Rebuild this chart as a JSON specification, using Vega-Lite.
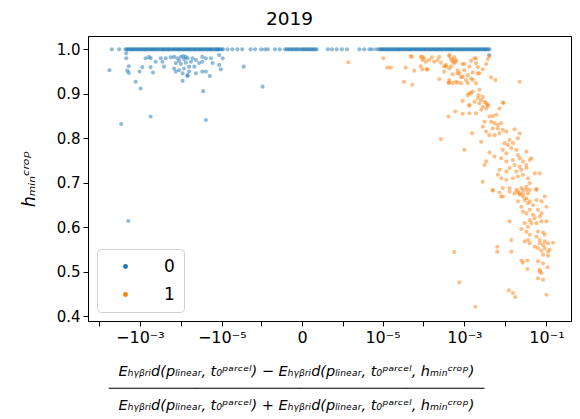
{
"$schema": "https://vega.github.io/schema/vega-lite/v6.json",
"autosize": {"type": "none"},
"padding": {"left": 88, "top": 36, "right": 9, "bottom": 98},
"width": 483,
"height": 285,
"config": {"font": "DejaVu Sans", "view": {"stroke": "black", "strokeWidth": 1}},
"title": {"text": "2019", "fontSize": 18.5, "fontWeight": "normal", "color": "black", "offset": 8, "dx": -40},
"datasets": {
"pts": [
{"c":"0","x":-4.8e-3,"y":1},{"c":"0","x":-3.2e-3,"y":1},{"c":"0","x":-2.24e-3,"y":1},{"c":"0","x":-1.95e-3,"y":1},{"c":"0","x":-1.70e-3,"y":1},{"c":"0","x":-1.48e-3,"y":1},{"c":"0","x":-1.29e-3,"y":1},{"c":"0","x":-1.12e-3,"y":1},{"c":"0","x":-9.8e-4,"y":1},{"c":"0","x":-8.5e-4,"y":1},{"c":"0","x":-7.4e-4,"y":1},{"c":"0","x":-6.5e-4,"y":1},{"c":"0","x":-5.6e-4,"y":1},{"c":"0","x":-4.9e-4,"y":1},{"c":"0","x":-4.3e-4,"y":1},{"c":"0","x":-3.7e-4,"y":1},{"c":"0","x":-3.2e-4,"y":1},{"c":"0","x":-2.8e-4,"y":1},{"c":"0","x":-2.5e-4,"y":1},{"c":"0","x":-2.1e-4,"y":1},{"c":"0","x":-1.9e-4,"y":1},{"c":"0","x":-1.6e-4,"y":1},{"c":"0","x":-1.4e-4,"y":1},{"c":"0","x":-1.2e-4,"y":1},{"c":"0","x":-1.07e-4,"y":1},{"c":"0","x":-9.3e-5,"y":1},{"c":"0","x":-8.1e-5,"y":1},{"c":"0","x":-7.1e-5,"y":1},{"c":"0","x":-6.2e-5,"y":1},{"c":"0","x":-5.4e-5,"y":1},{"c":"0","x":-4.7e-5,"y":1},{"c":"0","x":-4.1e-5,"y":1},{"c":"0","x":-3.5e-5,"y":1},{"c":"0","x":-3.1e-5,"y":1},{"c":"0","x":-2.7e-5,"y":1},{"c":"0","x":-2.3e-5,"y":1},{"c":"0","x":-2.0e-5,"y":1},{"c":"0","x":-1.8e-5,"y":1},{"c":"0","x":-1.5e-5,"y":1},{"c":"0","x":-1.3e-5,"y":1},{"c":"0","x":-1.2e-5,"y":1},{"c":"0","x":-1.0e-5,"y":1},{"c":"0","x":-9.3e-6,"y":1},
{"c":"0","x":-2.09e-3,"y":1},{"c":"0","x":-1.82e-3,"y":1},{"c":"0","x":-1.58e-3,"y":1},{"c":"0","x":-1.38e-3,"y":1},{"c":"0","x":-1.20e-3,"y":1},{"c":"0","x":-1.05e-3,"y":1},{"c":"0","x":-9.1e-4,"y":1},{"c":"0","x":-7.9e-4,"y":1},{"c":"0","x":-6.9e-4,"y":1},{"c":"0","x":-6.0e-4,"y":1},{"c":"0","x":-5.2e-4,"y":1},{"c":"0","x":-4.6e-4,"y":1},{"c":"0","x":-4.0e-4,"y":1},{"c":"0","x":-3.5e-4,"y":1},{"c":"0","x":-3.0e-4,"y":1},{"c":"0","x":-2.6e-4,"y":1},{"c":"0","x":-2.3e-4,"y":1},{"c":"0","x":-2.0e-4,"y":1},{"c":"0","x":-1.74e-4,"y":1},{"c":"0","x":-1.51e-4,"y":1},{"c":"0","x":-1.32e-4,"y":1},{"c":"0","x":-1.15e-4,"y":1},{"c":"0","x":-1.0e-4,"y":1},{"c":"0","x":-8.7e-5,"y":1},{"c":"0","x":-7.6e-5,"y":1},{"c":"0","x":-6.6e-5,"y":1},{"c":"0","x":-5.8e-5,"y":1},{"c":"0","x":-5.0e-5,"y":1},{"c":"0","x":-4.4e-5,"y":1},{"c":"0","x":-3.8e-5,"y":1},{"c":"0","x":-3.3e-5,"y":1},{"c":"0","x":-2.9e-5,"y":1},{"c":"0","x":-2.5e-5,"y":1},{"c":"0","x":-2.2e-5,"y":1},{"c":"0","x":-1.9e-5,"y":1},{"c":"0","x":-1.66e-5,"y":1},{"c":"0","x":-1.45e-5,"y":1},{"c":"0","x":-1.26e-5,"y":1},{"c":"0","x":-1.10e-5,"y":1},
{"c":"0","x":-7.2e-6,"y":1},{"c":"0","x":-5.5e-6,"y":1},{"c":"0","x":-4.1e-6,"y":1},{"c":"0","x":-3.1e-6,"y":1},{"c":"0","x":-1.9e-6,"y":1},{"c":"0","x":-1.45e-6,"y":1},{"c":"0","x":-1.0e-6,"y":1},{"c":"0","x":-7.9e-7,"y":1},{"c":"0","x":-6.5e-7,"y":1},{"c":"0","x":-4.0e-7,"y":1},{"c":"0","x":-2.8e-7,"y":1},{"c":"0","x":-1.8e-7,"y":1},{"c":"0","x":-1.5e-7,"y":1},{"c":"0","x":-1.3e-7,"y":1},{"c":"0","x":-1.1e-7,"y":1},{"c":"0","x":-9e-8,"y":1},{"c":"0","x":-7.7e-8,"y":1},{"c":"0","x":-6e-8,"y":1},{"c":"0","x":-4.7e-8,"y":1},{"c":"0","x":-3.5e-8,"y":1},{"c":"0","x":-2.3e-8,"y":1},{"c":"0","x":-1e-8,"y":1},{"c":"0","x":0,"y":1},{"c":"0","x":1e-8,"y":1},{"c":"0","x":1.8e-8,"y":1},{"c":"0","x":3e-8,"y":1},{"c":"0","x":4.2e-8,"y":1},{"c":"0","x":5.5e-8,"y":1},{"c":"0","x":7.0e-8,"y":1},{"c":"0","x":8.5e-8,"y":1},{"c":"0","x":1.0e-7,"y":1},{"c":"0","x":1.2e-7,"y":1},{"c":"0","x":1.4e-7,"y":1},{"c":"0","x":3.6e-7,"y":1},{"c":"0","x":4.8e-7,"y":1},{"c":"0","x":6.6e-7,"y":1},{"c":"0","x":9.2e-7,"y":1},{"c":"0","x":1.27e-6,"y":1},{"c":"0","x":2.65e-6,"y":1},{"c":"0","x":3.5e-6,"y":1},{"c":"0","x":4.7e-6,"y":1},{"c":"0","x":5.5e-6,"y":1},{"c":"0","x":6.9e-6,"y":1},
{"c":"0","x":8.1e-6,"y":1},{"c":"0","x":9.3e-6,"y":1},{"c":"0","x":1.07e-5,"y":1},{"c":"0","x":1.23e-5,"y":1},{"c":"0","x":1.41e-5,"y":1},{"c":"0","x":1.62e-5,"y":1},{"c":"0","x":1.86e-5,"y":1},{"c":"0","x":2.14e-5,"y":1},{"c":"0","x":2.45e-5,"y":1},{"c":"0","x":2.8e-5,"y":1},{"c":"0","x":3.2e-5,"y":1},{"c":"0","x":3.7e-5,"y":1},{"c":"0","x":4.3e-5,"y":1},{"c":"0","x":4.9e-5,"y":1},{"c":"0","x":5.6e-5,"y":1},{"c":"0","x":6.5e-5,"y":1},{"c":"0","x":7.4e-5,"y":1},{"c":"0","x":8.5e-5,"y":1},{"c":"0","x":9.8e-5,"y":1},{"c":"0","x":1.12e-4,"y":1},{"c":"0","x":1.29e-4,"y":1},{"c":"0","x":1.48e-4,"y":1},{"c":"0","x":1.70e-4,"y":1},{"c":"0","x":1.95e-4,"y":1},{"c":"0","x":2.24e-4,"y":1},{"c":"0","x":2.57e-4,"y":1},{"c":"0","x":2.95e-4,"y":1},{"c":"0","x":3.4e-4,"y":1},{"c":"0","x":3.9e-4,"y":1},{"c":"0","x":4.5e-4,"y":1},{"c":"0","x":5.1e-4,"y":1},{"c":"0","x":5.9e-4,"y":1},{"c":"0","x":6.8e-4,"y":1},{"c":"0","x":7.8e-4,"y":1},{"c":"0","x":8.9e-4,"y":1},{"c":"0","x":1.02e-3,"y":1},{"c":"0","x":1.17e-3,"y":1},{"c":"0","x":1.35e-3,"y":1},{"c":"0","x":1.55e-3,"y":1},{"c":"0","x":1.78e-3,"y":1},{"c":"0","x":2.04e-3,"y":1},{"c":"0","x":2.34e-3,"y":1},{"c":"0","x":2.69e-3,"y":1},{"c":"0","x":3.1e-3,"y":1},{"c":"0","x":3.5e-3,"y":1},{"c":"0","x":4.1e-3,"y":1},
{"c":"0","x":8.7e-6,"y":1},{"c":"0","x":1.0e-5,"y":1},{"c":"0","x":1.15e-5,"y":1},{"c":"0","x":1.32e-5,"y":1},{"c":"0","x":1.51e-5,"y":1},{"c":"0","x":1.74e-5,"y":1},{"c":"0","x":2.0e-5,"y":1},{"c":"0","x":2.3e-5,"y":1},{"c":"0","x":2.6e-5,"y":1},{"c":"0","x":3.0e-5,"y":1},{"c":"0","x":3.5e-5,"y":1},{"c":"0","x":4.0e-5,"y":1},{"c":"0","x":4.6e-5,"y":1},{"c":"0","x":5.2e-5,"y":1},{"c":"0","x":6.0e-5,"y":1},{"c":"0","x":6.9e-5,"y":1},{"c":"0","x":7.9e-5,"y":1},{"c":"0","x":9.1e-5,"y":1},{"c":"0","x":1.05e-4,"y":1},{"c":"0","x":1.20e-4,"y":1},{"c":"0","x":1.38e-4,"y":1},{"c":"0","x":1.58e-4,"y":1},{"c":"0","x":1.82e-4,"y":1},{"c":"0","x":2.09e-4,"y":1},{"c":"0","x":2.4e-4,"y":1},{"c":"0","x":2.75e-4,"y":1},{"c":"0","x":3.16e-4,"y":1},{"c":"0","x":3.6e-4,"y":1},{"c":"0","x":4.2e-4,"y":1},{"c":"0","x":4.8e-4,"y":1},{"c":"0","x":5.5e-4,"y":1},{"c":"0","x":6.3e-4,"y":1},{"c":"0","x":7.2e-4,"y":1},{"c":"0","x":8.3e-4,"y":1},{"c":"0","x":9.5e-4,"y":1},{"c":"0","x":1.10e-3,"y":1},{"c":"0","x":1.26e-3,"y":1},{"c":"0","x":1.45e-3,"y":1},{"c":"0","x":1.66e-3,"y":1},{"c":"0","x":1.91e-3,"y":1},{"c":"0","x":2.19e-3,"y":1},{"c":"0","x":2.51e-3,"y":1},{"c":"0","x":2.88e-3,"y":1},{"c":"0","x":3.3e-3,"y":1},{"c":"0","x":3.8e-3,"y":1},
{"c":"0","x":-2.15e-3,"y":0.991},{"c":"0","x":-2.15e-3,"y":0.980},{"c":"0","x":-7.24e-4,"y":0.980},{"c":"0","x":-6.0e-4,"y":0.983},{"c":"0","x":-5.47e-4,"y":0.980},{"c":"0","x":-3.11e-4,"y":0.980},{"c":"0","x":-2.34e-4,"y":0.980},{"c":"0","x":-1.77e-4,"y":0.982},{"c":"0","x":-4.12e-4,"y":0.972},{"c":"0","x":-2.82e-4,"y":0.972},{"c":"0","x":-1.86e-3,"y":0.962},{"c":"0","x":-8.73e-4,"y":0.960},{"c":"0","x":-5.47e-4,"y":0.960},{"c":"0","x":-2.58e-4,"y":0.961},{"c":"0","x":-5.53e-3,"y":0.953},{"c":"0","x":-2.04e-3,"y":0.952},{"c":"0","x":-1.86e-3,"y":0.947},{"c":"0","x":-1.02e-3,"y":0.950},{"c":"0","x":-4.80e-4,"y":0.948},
{"c":"0","x":-1.47e-4,"y":0.983},{"c":"0","x":-1.21e-4,"y":0.980},{"c":"0","x":-1.0e-4,"y":0.983},{"c":"0","x":-8.8e-5,"y":0.985},{"c":"0","x":-7.6e-5,"y":0.983},{"c":"0","x":-6.9e-5,"y":0.980},{"c":"0","x":-8.4e-5,"y":0.978},{"c":"0","x":-1.11e-4,"y":0.974},{"c":"0","x":-1.33e-4,"y":0.969},{"c":"0","x":-1.0e-4,"y":0.967},{"c":"0","x":-7.6e-5,"y":0.970},{"c":"0","x":-5.7e-5,"y":0.972},{"c":"0","x":-5.2e-5,"y":0.980},{"c":"0","x":-4.3e-5,"y":0.976},{"c":"0","x":-6.3e-5,"y":0.961},{"c":"0","x":-8.4e-5,"y":0.957},{"c":"0","x":-1.11e-4,"y":0.953},{"c":"0","x":-1.33e-4,"y":0.950},{"c":"0","x":-1.47e-4,"y":0.957},{"c":"0","x":-9.1e-5,"y":0.946},{"c":"0","x":-6.3e-5,"y":0.950},{"c":"0","x":-4.7e-5,"y":0.961},{"c":"0","x":-3.6e-5,"y":0.969},{"c":"0","x":-3.0e-5,"y":0.972},{"c":"0","x":-3.0e-5,"y":0.983},{"c":"0","x":-2.45e-5,"y":0.980},{"c":"0","x":-1.85e-5,"y":0.980},{"c":"0","x":-1.68e-5,"y":0.969},{"c":"0","x":-1.16e-5,"y":0.965},{"c":"0","x":-9.5e-6,"y":0.980},{"c":"0","x":-1.16e-5,"y":0.987},{"c":"0","x":-2.45e-5,"y":0.950},{"c":"0","x":-3.0e-5,"y":0.950},{"c":"0","x":-4.3e-5,"y":0.946},{"c":"0","x":-6.9e-5,"y":0.942},{"c":"0","x":-9.1e-5,"y":0.929},{"c":"0","x":-6.9e-5,"y":0.940},{"c":"0","x":-1.96e-5,"y":0.940},{"c":"0","x":-1.05e-5,"y":0.955},
{"c":"0","x":-1.27e-3,"y":0.927},{"c":"0","x":-9.6e-4,"y":0.912},{"c":"0","x":-2.86e-5,"y":0.906},{"c":"0","x":-2.83e-6,"y":0.961},{"c":"0","x":-9.1e-7,"y":0.916},{"c":"0","x":-5.47e-4,"y":0.849},{"c":"0","x":-2.45e-5,"y":0.841},{"c":"0","x":-2.86e-3,"y":0.832},{"c":"0","x":-1.92e-3,"y":0.614},{"c":"0","x":4.0e-3,"y":0.987},
{"c":"1","x":1.37e-6,"y":0.971},{"c":"1","x":1.05e-5,"y":0.980},{"c":"1","x":1.31e-5,"y":0.959},{"c":"1","x":1.59e-5,"y":0.959},{"c":"1","x":3.37e-5,"y":0.927},{"c":"1","x":5.37e-5,"y":0.921},{"c":"1","x":3.70e-5,"y":0.959},{"c":"1","x":5.2e-5,"y":0.983},{"c":"1","x":5.92e-5,"y":0.952},{"c":"1","x":8.63e-5,"y":0.983},{"c":"1","x":9.45e-5,"y":0.976},{"c":"1","x":1.15e-4,"y":0.972},{"c":"1","x":1.04e-4,"y":0.980},{"c":"1","x":8.63e-5,"y":0.962},{"c":"1","x":1.21e-4,"y":0.955},{"c":"1","x":1.61e-4,"y":0.982},{"c":"1","x":2.20e-4,"y":0.976},{"c":"1","x":2.67e-4,"y":0.970},{"c":"1","x":2.43e-4,"y":0.933},{"c":"1","x":3.21e-4,"y":0.962},{"c":"1","x":3.54e-4,"y":0.961},{"c":"1","x":4.27e-4,"y":0.985},{"c":"1","x":4.70e-4,"y":0.978},{"c":"1","x":5.14e-4,"y":0.972},{"c":"1","x":5.65e-4,"y":0.969},{"c":"1","x":6.22e-4,"y":0.976},{"c":"1","x":5.65e-4,"y":0.982},{"c":"1","x":4.27e-4,"y":0.957},{"c":"1","x":5.14e-4,"y":0.944},{"c":"1","x":6.81e-4,"y":0.946},{"c":"1","x":8.26e-4,"y":0.938},{"c":"1","x":6.22e-4,"y":0.927},{"c":"1","x":4.27e-4,"y":0.925},{"c":"1","x":9.04e-4,"y":0.967},{"c":"1","x":9.95e-4,"y":0.953},{"c":"1","x":1.09e-3,"y":0.931},{"c":"1","x":1.20e-3,"y":0.924},{"c":"1","x":8.26e-4,"y":0.924},{"c":"1","x":1.45e-3,"y":0.974},{"c":"1","x":1.75e-3,"y":0.980},{"c":"1","x":1.92e-3,"y":0.969},{"c":"1","x":2.11e-3,"y":0.960},{"c":"1","x":1.59e-3,"y":0.948},{"c":"1","x":2.32e-3,"y":0.946},{"c":"1","x":1.45e-3,"y":0.935},{"c":"1","x":3.38e-3,"y":0.967},{"c":"1","x":4.07e-3,"y":0.985},{"c":"1","x":4.49e-3,"y":0.937},{"c":"1","x":5.72e-3,"y":0.931},
{"c":"1","x":1.32e-3,"y":0.901},{"c":"1","x":1.59e-3,"y":0.905},{"c":"1","x":1.20e-3,"y":0.897},{"c":"1","x":1.45e-3,"y":0.901},{"c":"1","x":2.32e-3,"y":0.909},{"c":"1","x":9.04e-4,"y":0.884},{"c":"1","x":1.32e-3,"y":0.875},{"c":"1","x":1.75e-3,"y":0.882},{"c":"1","x":2.55e-3,"y":0.886},{"c":"1","x":3.38e-3,"y":0.879},{"c":"1","x":3.71e-3,"y":0.873},{"c":"1","x":2.79e-3,"y":0.871},
{"c":"1","x":4.91e-5,"y":0.985},{"c":"1","x":9.45e-5,"y":0.983},{"c":"1","x":1.38e-4,"y":0.976},{"c":"1","x":1.83e-4,"y":0.972},{"c":"1","x":2.43e-4,"y":0.983},{"c":"1","x":9.45e-5,"y":0.955},{"c":"1","x":1.25e-4,"y":0.955},{"c":"1","x":4.10e-4,"y":0.925},{"c":"1","x":4.27e-4,"y":0.987},{"c":"1","x":5.14e-4,"y":0.976},{"c":"1","x":6.22e-4,"y":0.972},{"c":"1","x":3.54e-4,"y":0.965},{"c":"1","x":4.70e-4,"y":0.962},{"c":"1","x":3.21e-4,"y":0.950},{"c":"1","x":6.81e-4,"y":0.953},{"c":"1","x":9.95e-4,"y":0.967},{"c":"1","x":1.32e-3,"y":0.961},{"c":"1","x":1.92e-3,"y":0.980},{"c":"1","x":2.79e-3,"y":0.955},{"c":"1","x":2.11e-3,"y":0.946},{"c":"1","x":3.71e-3,"y":0.978},{"c":"1","x":7.50e-4,"y":0.946},{"c":"1","x":9.04e-4,"y":0.938},{"c":"1","x":1.20e-3,"y":0.942},{"c":"1","x":1.59e-3,"y":0.931},{"c":"1","x":1.92e-3,"y":0.924},{"c":"1","x":6.81e-4,"y":0.925},{"c":"1","x":5.14e-4,"y":0.924},{"c":"1","x":4.27e-4,"y":0.931},{"c":"1","x":2.22e-2,"y":0.927},{"c":"1","x":8.63e-3,"y":0.880},
{"c":"1","x":2.23e-3,"y":0.897},{"c":"1","x":2.11e-3,"y":0.890},{"c":"1","x":2.79e-3,"y":0.893},{"c":"1","x":1.32e-3,"y":0.873},{"c":"1","x":2.32e-3,"y":0.879},{"c":"1","x":3.08e-3,"y":0.882},{"c":"1","x":3.71e-3,"y":0.875},{"c":"1","x":3.38e-3,"y":0.867},{"c":"1","x":2.55e-3,"y":0.864},{"c":"1","x":1.92e-3,"y":0.856},{"c":"1","x":1.32e-3,"y":0.856},{"c":"1","x":7.17e-3,"y":0.867},{"c":"1","x":8.98e-3,"y":0.880},{"c":"1","x":5.98e-4,"y":0.860},{"c":"1","x":4.10e-4,"y":0.849},{"c":"1","x":9.04e-4,"y":0.855},
{"c":"1","x":4.07e-3,"y":0.849},{"c":"1","x":4.91e-3,"y":0.850},{"c":"1","x":5.95e-3,"y":0.853},{"c":"1","x":4.49e-3,"y":0.837},{"c":"1","x":5.41e-3,"y":0.834},{"c":"1","x":6.51e-3,"y":0.830},{"c":"1","x":7.89e-3,"y":0.834},{"c":"1","x":3.08e-3,"y":0.837},{"c":"1","x":2.79e-3,"y":0.826},{"c":"1","x":3.38e-3,"y":0.815},{"c":"1","x":4.07e-3,"y":0.807},{"c":"1","x":5.41e-3,"y":0.807},{"c":"1","x":7.17e-3,"y":0.811},{"c":"1","x":8.63e-3,"y":0.819},{"c":"1","x":1.05e-2,"y":0.815},{"c":"1","x":4.91e-3,"y":0.822},{"c":"1","x":6.51e-3,"y":0.822},{"c":"1","x":1.54e-3,"y":0.811},{"c":"1","x":2.67e-4,"y":0.798},{"c":"1","x":2.55e-3,"y":0.792},
{"c":"1","x":1.67e-2,"y":0.820},{"c":"1","x":2.22e-2,"y":0.811},{"c":"1","x":2.01e-2,"y":0.800},{"c":"1","x":1.26e-2,"y":0.796},{"c":"1","x":1.15e-2,"y":0.785},{"c":"1","x":9.51e-3,"y":0.789},{"c":"1","x":1.52e-2,"y":0.789},{"c":"1","x":1.39e-2,"y":0.778},{"c":"1","x":8.63e-3,"y":0.774},{"c":"1","x":1.05e-2,"y":0.766},{"c":"1","x":1.84e-2,"y":0.774},{"c":"1","x":2.01e-2,"y":0.762},{"c":"1","x":3.24e-2,"y":0.770},{"c":"1","x":9.95e-4,"y":0.774},
{"c":"1","x":4.07e-3,"y":0.768},{"c":"1","x":5.41e-3,"y":0.759},{"c":"1","x":7.89e-3,"y":0.755},{"c":"1","x":1.05e-2,"y":0.748},{"c":"1","x":1.52e-2,"y":0.751},{"c":"1","x":2.22e-2,"y":0.755},{"c":"1","x":2.67e-2,"y":0.748},{"c":"1","x":3.90e-2,"y":0.751},{"c":"1","x":3.24e-2,"y":0.740},{"c":"1","x":2.22e-2,"y":0.736},{"c":"1","x":1.67e-2,"y":0.740},{"c":"1","x":1.26e-2,"y":0.733},{"c":"1","x":1.05e-2,"y":0.725},{"c":"1","x":1.84e-2,"y":0.725},{"c":"1","x":2.44e-2,"y":0.729},{"c":"1","x":3.24e-2,"y":0.733},{"c":"1","x":4.29e-2,"y":0.755},
{"c":"1","x":3.38e-3,"y":0.748},{"c":"1","x":3.08e-3,"y":0.740},{"c":"1","x":7.17e-3,"y":0.729},{"c":"1","x":6.51e-3,"y":0.718},{"c":"1","x":7.89e-3,"y":0.710},{"c":"1","x":1.05e-2,"y":0.706},{"c":"1","x":1.52e-2,"y":0.710},{"c":"1","x":2.01e-2,"y":0.714},{"c":"1","x":2.67e-2,"y":0.718},{"c":"1","x":3.54e-2,"y":0.710},{"c":"1","x":5.16e-2,"y":0.721},{"c":"1","x":6.85e-2,"y":0.721},{"c":"1","x":3.90e-2,"y":0.699},{"c":"1","x":3.24e-2,"y":0.691},{"c":"1","x":2.44e-2,"y":0.688},{"c":"1","x":1.84e-2,"y":0.684},{"c":"1","x":1.26e-2,"y":0.688},{"c":"1","x":8.63e-3,"y":0.688},{"c":"1","x":4.91e-3,"y":0.684},{"c":"1","x":2.79e-3,"y":0.702},{"c":"1","x":2.67e-2,"y":0.684},{"c":"1","x":3.90e-2,"y":0.684},{"c":"1","x":3.54e-2,"y":0.676},{"c":"1","x":2.22e-2,"y":0.676},{"c":"1","x":2.67e-2,"y":0.669},{"c":"1","x":5.69e-2,"y":0.686},{"c":"1","x":9.08e-2,"y":0.669},{"c":"1","x":7.89e-3,"y":0.669},
{"c":"1","x":4.91e-3,"y":0.682},{"c":"1","x":7.17e-3,"y":0.678},{"c":"1","x":8.63e-3,"y":0.669},{"c":"1","x":1.26e-2,"y":0.680},{"c":"1","x":1.67e-2,"y":0.676},{"c":"1","x":2.01e-2,"y":0.680},{"c":"1","x":2.22e-2,"y":0.673},{"c":"1","x":2.67e-2,"y":0.676},{"c":"1","x":3.24e-2,"y":0.684},{"c":"1","x":5.69e-2,"y":0.684},
{"c":"1","x":2.01e-2,"y":0.658},{"c":"1","x":2.44e-2,"y":0.646},{"c":"1","x":2.94e-2,"y":0.661},{"c":"1","x":3.54e-2,"y":0.654},{"c":"1","x":3.24e-2,"y":0.665},{"c":"1","x":3.90e-2,"y":0.658},{"c":"1","x":4.70e-2,"y":0.650},{"c":"1","x":5.69e-2,"y":0.661},{"c":"1","x":7.54e-2,"y":0.658},{"c":"1","x":0.1,"y":0.646},{"c":"1","x":2.67e-2,"y":0.635},{"c":"1","x":3.24e-2,"y":0.631},{"c":"1","x":3.90e-2,"y":0.639},{"c":"1","x":4.70e-2,"y":0.628},{"c":"1","x":6.22e-2,"y":0.639},{"c":"1","x":7.54e-2,"y":0.631},{"c":"1","x":6.85e-2,"y":0.624},{"c":"1","x":5.16e-2,"y":0.620},{"c":"1","x":3.90e-2,"y":0.616},{"c":"1","x":2.94e-2,"y":0.609},{"c":"1","x":3.54e-2,"y":0.601},{"c":"1","x":4.29e-2,"y":0.609},{"c":"1","x":5.69e-2,"y":0.609},{"c":"1","x":7.54e-2,"y":0.613},{"c":"1","x":0.1,"y":0.613},{"c":"1","x":2.44e-2,"y":0.596},{"c":"1","x":1.26e-2,"y":0.613},
{"c":"1","x":3.24e-2,"y":0.590},{"c":"1","x":3.90e-2,"y":0.583},{"c":"1","x":6.22e-2,"y":0.590},{"c":"1","x":8.26e-2,"y":0.588},{"c":"1","x":9.08e-2,"y":0.583},{"c":"1","x":5.69e-2,"y":0.579},{"c":"1","x":6.85e-2,"y":0.571},{"c":"1","x":9.08e-2,"y":0.568},{"c":"1","x":6.85e-2,"y":0.564},{"c":"1","x":8.26e-2,"y":0.560},{"c":"1","x":0.109,"y":0.564},{"c":"1","x":0.145,"y":0.565},{"c":"1","x":5.16e-2,"y":0.556},{"c":"1","x":6.22e-2,"y":0.553},{"c":"1","x":7.54e-2,"y":0.547},{"c":"1","x":9.08e-2,"y":0.553},{"c":"1","x":0.109,"y":0.545},{"c":"1","x":8.26e-2,"y":0.538},{"c":"1","x":0.109,"y":0.536},{"c":"1","x":3.90e-2,"y":0.564},{"c":"1","x":3.54e-2,"y":0.571},{"c":"1","x":2.94e-2,"y":0.568},{"c":"1","x":0.12,"y":0.549},
{"c":"1","x":1.39e-2,"y":0.571},{"c":"1","x":1.39e-2,"y":0.545},{"c":"1","x":6.30e-3,"y":0.556},{"c":"1","x":6.30e-3,"y":0.545},{"c":"1","x":5.65e-4,"y":0.544},
{"c":"1","x":2.44e-2,"y":0.525},{"c":"1","x":2.67e-2,"y":0.520},{"c":"1","x":3.42e-2,"y":0.525},{"c":"1","x":3.42e-2,"y":0.506},{"c":"1","x":6.22e-2,"y":0.523},{"c":"1","x":8.26e-2,"y":0.519},{"c":"1","x":0.106,"y":0.510},{"c":"1","x":6.85e-2,"y":0.500},{"c":"1","x":7.54e-2,"y":0.497},{"c":"1","x":6.85e-2,"y":0.504},{"c":"1","x":6.22e-2,"y":0.485},{"c":"1","x":8.26e-2,"y":0.482},{"c":"1","x":0.1,"y":0.448},{"c":"1","x":7.50e-4,"y":0.476},{"c":"1","x":1.21e-2,"y":0.458},{"c":"1","x":1.52e-2,"y":0.452},{"c":"1","x":1.74e-2,"y":0.443},{"c":"1","x":1.85e-3,"y":0.421}
]
},
"data": {"name": "pts"},
"mark": {"type": "circle", "size": 17, "opacity": 0.5},
"encoding": {
"x": {"field": "x", "type": "quantitative",
"scale": {"type": "symlog", "constant": 1.11e-7, "domain": [-0.0184, 0.396], "nice": false, "zero": false},
"axis": {"values": [-0.01,-0.001,-0.0001,-0.00001,-0.000001,0,0.000001,0.00001,0.0001,0.001,0.01,0.1],
"labelExpr": "datum.value == -0.001 ? '−10⁻³' : datum.value == -0.00001 ? '−10⁻⁵' : datum.value == 0 ? '0' : datum.value == 0.00001 ? '10⁻⁵' : datum.value == 0.001 ? '10⁻³' : datum.value == 0.1 ? '10⁻¹' : ''",
"title": ["Eₕᵧᵦᵣᵢd(pₗᵢₙₑₐᵣ, t₀ᵖᵃʳᶜᵉˡ) − Eₕᵧᵦᵣᵢd(pₗᵢₙₑₐᵣ, t₀ᵖᵃʳᶜᵉˡ, hₘᵢₙᶜʳᵒᵖ)", "───────────────────────────────────────────", "Eₕᵧᵦᵣᵢd(pₗᵢₙₑₐᵣ, t₀ᵖᵃʳᶜᵉˡ) + Eₕᵧᵦᵣᵢd(pₗᵢₙₑₐᵣ, t₀ᵖᵃʳᶜᵉˡ, hₘᵢₙᶜʳᵒᵖ)"],
"titleFontSize": 14.5, "titleFontWeight": "normal", "titleFontStyle": "italic", "titleLineHeight": 17, "titleColor": "black", "titlePadding": 19, "titleX": 208, "titleAlign": "center",
"labelFontSize": 16, "labelColor": "black", "labelPadding": 3, "labelFlush": false, "labelOverlap": false,
"tickColor": "black", "tickSize": 5, "domainColor": "black", "grid": false}},
"y": {"field": "y", "type": "quantitative",
"scale": {"domain": [0.389, 1.03], "nice": false, "zero": false},
"axis": {"values": [0.4,0.5,0.6,0.7,0.8,0.9,1.0], "format": ".1f", "title": "hₘᵢₙᶜʳᵒᵖ",
"titleFontSize": 17, "titleFontWeight": "normal", "titleFontStyle": "italic", "titleColor": "black", "titlePadding": 18,
"labelFontSize": 15, "labelColor": "black", "labelPadding": 3,
"tickColor": "black", "tickSize": 5, "domainColor": "black", "grid": false}},
"color": {"field": "c", "type": "nominal",
"scale": {"domain": ["0", "1"], "range": ["#1f77b4", "#ff7f0e"]},
"legend": {"title": null, "orient": "bottom-left", "offset": 9, "symbolType": "circle", "symbolSize": 24, "symbolOpacity": 1,
"labelFontSize": 17, "labelColor": "black", "labelOffset": 30, "padding": 9, "rowPadding": 10, "symbolOffset": 11,
"strokeColor": "#d0d0d0", "fillColor": "white", "cornerRadius": 4}}
}
}
